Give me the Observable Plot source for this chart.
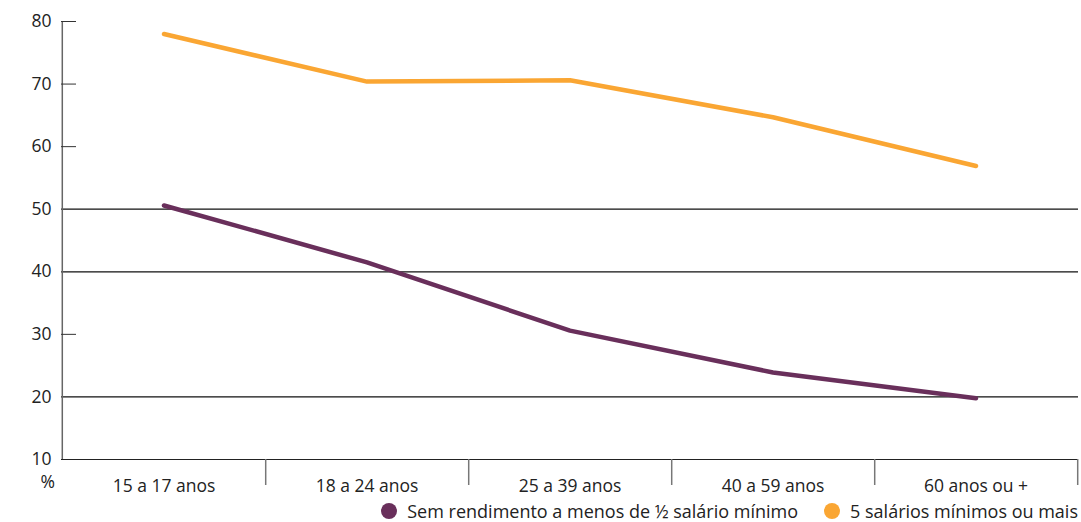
<!DOCTYPE html>
<html>
<head>
<meta charset="utf-8">
<script src="https://cdn.jsdelivr.net/npm/d3@7"></script>
<script src="https://cdn.jsdelivr.net/npm/@observablehq/plot@0.6"></script>
<style>
  html, body { margin: 0; padding: 0; background: #fff; overflow: hidden; }
  body { position: relative; width: 1081px; height: 522px; font-family: "Open Sans", sans-serif; color: #222; }
  #chart svg { display: block; }
  #legend { position: absolute; right: 3px; top: 500px; display: flex; align-items: center; gap: 26px; height: 22px; line-height: 20px; font-size: 18px; color: #222; }
  .item { display: flex; align-items: center; gap: 10px; white-space: nowrap; }
  .sw { width: 16px; height: 16px; border-radius: 50%; display: inline-block; }
</style>
</head>
<body>
<div id="chart"></div>
<div id="legend"></div>
<script>
const categories = ["15 a 17 anos", "18 a 24 anos", "25 a 39 anos", "40 a 59 anos", "60 anos ou +"];
const seriesNames = ["Sem rendimento a menos de ½ salário mínimo", "5 salários mínimos ou mais"];
const semRendimento = [50.6, 41.5, 30.6, 23.9, 19.8];
const cincoSalarios = [78.0, 70.4, 70.6, 64.7, 56.9];
const yTicks = [10, 20, 30, 40, 50, 60, 70, 80];
const gridTicks = [20, 40, 50];
const shortTicks = [30, 60, 70, 80];
const colors = ["#692F5B", "#FAA633"];

const W = 1081, H = 500, ML = 61, MR = 3, MT = 21, MB = 41;
const bw = (W - ML - MR) / categories.length;

const data = [];
categories.forEach((c, i) => {
  data.push({cat: c, series: seriesNames[0], value: semRendimento[i]});
  data.push({cat: c, series: seriesNames[1], value: cincoSalarios[i]});
});

const chart = Plot.plot({
  width: W, height: H,
  marginLeft: ML, marginRight: MR, marginTop: MT, marginBottom: MB,
  style: {fontFamily: "Open Sans, sans-serif", fontSize: "17.5px", color: "#222", background: "#fff"},
  x: {type: "band", domain: categories, padding: 0, label: null},
  y: {domain: [10, 80], label: null},
  color: {domain: seriesNames, range: colors},
  marks: [
    Plot.ruleY(gridTicks, {stroke: "#111", strokeWidth: 1.2}),
    Plot.ruleY([10], {stroke: "#222", strokeWidth: 1.2}),
    Plot.ruleX([categories[0]], {y1: 10, y2: 80, dx: -bw / 2, stroke: "#666", strokeWidth: 1.5}),
    Plot.axisY({ticks: yTicks, tickSize: 0, tickPadding: 10, label: null, fontSize: 17.5}),
    Plot.axisY({ticks: shortTicks, tickSize: 15, dx: 15, text: null, label: null, stroke: "#333"}),
    Plot.axisX({tickSize: 0, tickPadding: 20, label: null, fontSize: 17.5}),
    Plot.axisX({tickSize: 26, dx: bw / 2, text: null, label: null, stroke: "#777", strokeWidth: 1.5}),
    Plot.text(["%"], {frameAnchor: "bottom-left", dx: -21, dy: 28, fontSize: 17.5, fill: "#222"}),
    Plot.line(data, {x: "cat", y: "value", z: "series", stroke: "series", strokeWidth: 4.5, strokeLinecap: "round", strokeLinejoin: "round"})
  ]
});
document.getElementById("chart").appendChild(chart);

const legend = document.getElementById("legend");
seriesNames.forEach((s, i) => {
  const item = document.createElement("div");
  item.className = "item";
  const sw = document.createElement("span");
  sw.className = "sw";
  sw.style.background = colors[i];
  const t = document.createElement("span");
  t.textContent = s;
  item.appendChild(sw);
  item.appendChild(t);
  legend.appendChild(item);
});
</script>
</body>
</html>
